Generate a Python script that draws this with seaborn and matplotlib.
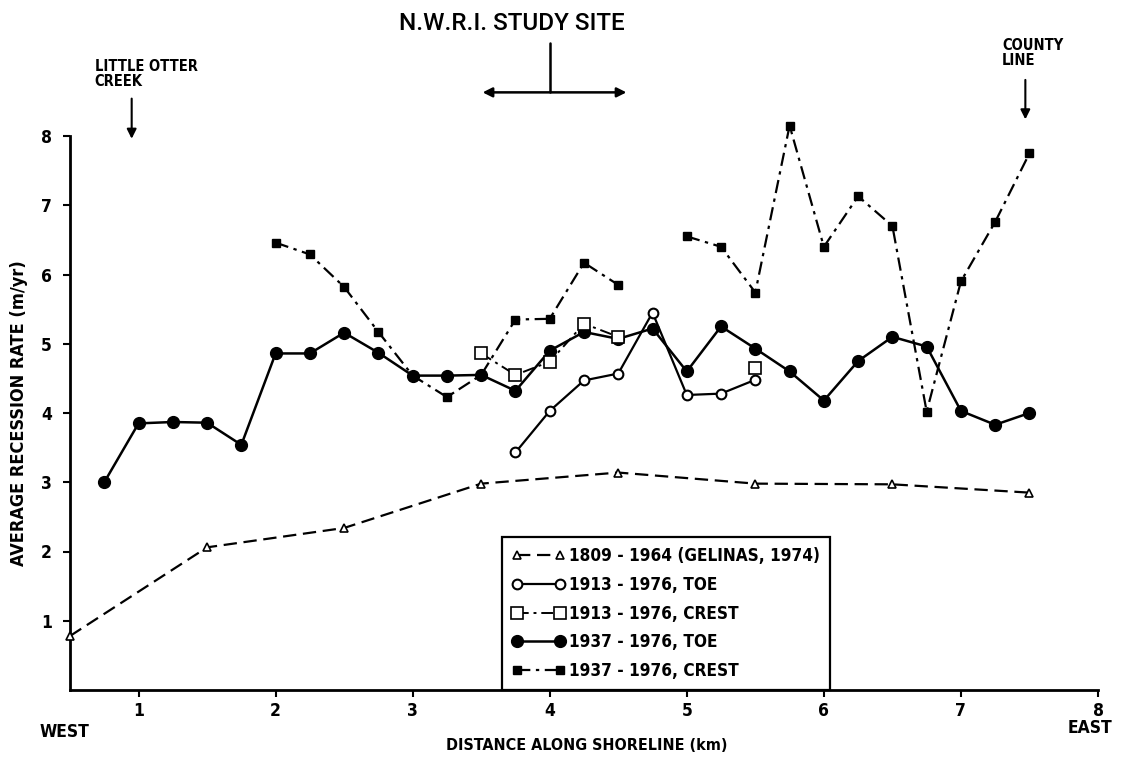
import matplotlib
matplotlib.use("Agg")
import matplotlib.pyplot as plt
from matplotlib.lines import Line2D
import pandas as pd
import seaborn as sns

# Distance along shoreline (km) and average recession rate (m/yr)
km_1809 = [0.5, 1.5, 2.5, 3.5, 4.5, 5.5, 6.5, 7.5]
rate_1809 = [0.78, 2.06, 2.34, 2.98, 3.14, 2.98, 2.97, 2.85]

km_1913_toe = [3.75, 4.0, 4.25, 4.5, 4.75, 5.0, 5.25, 5.5]
rate_1913_toe = [3.43, 4.03, 4.47, 4.57, 5.45, 4.26, 4.28, 4.48]

km_1913_crest = [3.5, 3.75, 4.0, 4.25, 4.5, 5.5]
rate_1913_crest = [4.86, 4.55, 4.74, 5.29, 5.10, 4.65]
seg_1913_crest = [0, 0, 0, 0, 0, 1]

km_1937_toe = [0.75, 1.0, 1.25, 1.5, 1.75, 2.0, 2.25, 2.5, 2.75, 3.0, 3.25,
               3.5, 3.75, 4.0, 4.25, 4.5, 4.75, 5.0, 5.25, 5.5, 5.75, 6.0,
               6.25, 6.5, 6.75, 7.0, 7.25, 7.5]
rate_1937_toe = [3.00, 3.85, 3.87, 3.86, 3.54, 4.86, 4.86, 5.16, 4.87, 4.54,
                 4.54, 4.55, 4.32, 4.90, 5.17, 5.07, 5.22, 4.60, 5.25, 4.93,
                 4.60, 4.18, 4.75, 5.10, 4.96, 4.03, 3.83, 4.00]

km_1937_crest = [2.0, 2.25, 2.5, 2.75, 3.0, 3.25, 3.5, 3.75, 4.0, 4.25, 4.5,
                 5.0, 5.25, 5.5, 5.75, 6.0, 6.25, 6.5, 6.75, 7.0, 7.25, 7.5]
rate_1937_crest = [6.46, 6.29, 5.82, 5.17, 4.54, 4.23, 4.55, 5.35, 5.36, 6.17,
                   5.85, 6.55, 6.40, 5.74, 8.15, 6.40, 7.13, 6.70, 4.02, 5.90,
                   6.76, 7.75]
seg_1937_crest = [0] * 11 + [1] * 11

series_labels = ["1809 - 1964 (GELINAS, 1974)", "1913 - 1976, TOE",
                 "1913 - 1976, CREST", "1937 - 1976, TOE", "1937 - 1976, CREST"]
x_ticks = [1, 2, 3, 4, 5, 6, 7, 8]
y_ticks = [1, 2, 3, 4, 5, 6, 7, 8]

sns.set_theme(style="white")
plt.rcParams["font.family"] = ["DejaVu Sans"]
plt.rcParams["font.stretch"] = "condensed"
plt.rcParams["font.weight"] = "bold"
for key in ["text.color", "axes.labelcolor", "xtick.color", "ytick.color",
            "axes.edgecolor"]:
    plt.rcParams[key] = "black"

W, H = 1124, 759
fig = plt.figure(figsize=(W / 100, H / 100), dpi=100)
fig.patch.set_facecolor("white")
ax = fig.add_axes([70 / W, 1 - 690 / H, 1028 / W, 554 / H])
ax.set_facecolor("white")

dash = (0, (6, 3))
dashdot = (0, (6, 2.5, 1.5, 2.5))

styles = [
    dict(ls=dash, lw=1.6, marker="^", ms=6, mfc="white", mec="black", mew=1.2),
    dict(ls="-", lw=1.6, marker="o", ms=7, mfc="white", mec="black", mew=1.5),
    dict(ls=dashdot, lw=1.4, marker="s", ms=9, mfc="white", mec="black", mew=1.2),
    dict(ls="-", lw=1.8, marker="o", ms=8.5, mfc="black", mec="black", mew=1.0),
    dict(ls=dashdot, lw=1.6, marker="s", ms=6, mfc="black", mec="black", mew=1.0),
]

frames = [
    pd.DataFrame({"km": km_1809, "rate": rate_1809, "seg": 0}),
    pd.DataFrame({"km": km_1913_toe, "rate": rate_1913_toe, "seg": 0}),
    pd.DataFrame({"km": km_1913_crest, "rate": rate_1913_crest, "seg": seg_1913_crest}),
    pd.DataFrame({"km": km_1937_toe, "rate": rate_1937_toe, "seg": 0}),
    pd.DataFrame({"km": km_1937_crest, "rate": rate_1937_crest, "seg": seg_1937_crest}),
]
zorders = [3, 5, 4, 3, 4]

for df, st, z in zip(frames, styles, zorders):
    sns.lineplot(data=df, x="km", y="rate", units="seg", estimator=None,
                 color="black", ax=ax, legend=False, zorder=z, clip_on=False,
                 **st)

ax.set_xlim(0.5, 8)
ax.set_ylim(0, 8)
ax.set_xticks(x_ticks)
ax.set_yticks(y_ticks)
ax.set_xticklabels([str(t) for t in x_ticks], fontsize=12.5, fontweight="bold")
ax.set_yticklabels([str(t) for t in y_ticks], fontsize=12.5, fontweight="bold")
ax.tick_params(axis="both", direction="out", length=5, width=1.5, color="black",
               labelcolor="black", bottom=True, left=True)
ax.tick_params(axis="x", pad=4)
ax.tick_params(axis="y", pad=8)
for side in ["top", "right"]:
    ax.spines[side].set_visible(False)
for side in ["left", "bottom"]:
    ax.spines[side].set_color("black")
    ax.spines[side].set_linewidth(2)
ax.grid(False)
ax.set_xlabel("")
ax.set_ylabel("AVERAGE RECESSION RATE (m/yr)", fontsize=13, fontweight="bold",
              labelpad=9)

# Axis captions below the distance axis
fig.text(587 / W, 1 - 746 / H, "DISTANCE ALONG SHORELINE (km)", fontsize=11.5,
         fontweight="bold", ha="center", va="center")
fig.text(40 / W, 1 - 732 / H, "WEST", fontsize=12.5, fontweight="bold",
         ha="left", va="center")
fig.text(1112 / W, 1 - 728 / H, "EAST", fontsize=12.5, fontweight="bold",
         ha="right", va="center")

# Legend
handles = [Line2D([], [], color="black", **st) for st in styles]
leg = ax.legend(handles, series_labels, loc="lower left",
                bbox_to_anchor=(0.42, 0.0), borderaxespad=0, frameon=True,
                fancybox=False, edgecolor="black", framealpha=1, numpoints=2,
                handlelength=3.1, handletextpad=0.25, labelspacing=0.62,
                borderpad=0.6, prop=dict(size=12.3, weight="bold",
                                         stretch="condensed"))
leg.get_frame().set_linewidth(1.6)

# Site annotations
arrow_kw = dict(arrowstyle="-|>", lw=1.5, color="black", mutation_scale=14)
ax.annotate("", xy=(0.95, 7.92), xytext=(0.95, 8.58), arrowprops=arrow_kw,
            annotation_clip=False)
ax.text(0.68, 8.68, "LITTLE OTTER\nCREEK", fontsize=10.5, fontweight="bold",
        ha="left", va="bottom", linespacing=1.0)

ax.annotate("", xy=(7.47, 8.2), xytext=(7.47, 8.85), arrowprops=arrow_kw,
            annotation_clip=False)
ax.text(7.3, 8.98, "COUNTY\nLINE", fontsize=10.5, fontweight="bold",
        ha="left", va="bottom", linespacing=1.0)

ax.annotate("", xy=(3.49, 8.63), xytext=(4.58, 8.63),
            arrowprops=dict(arrowstyle="<|-|>", lw=1.8, color="black",
                            mutation_scale=14), annotation_clip=False)
ax.plot([4.0, 4.0], [8.63, 9.35], color="black", lw=1.8, clip_on=False)
ax.text(3.72, 9.62, "N.W.R.I. STUDY SITE", fontsize=17.5, fontweight="medium",
        ha="center", va="center", family=["Roboto", "DejaVu Sans"],
        stretch="normal")

fig.savefig("out.png", dpi=100, facecolor="white")
